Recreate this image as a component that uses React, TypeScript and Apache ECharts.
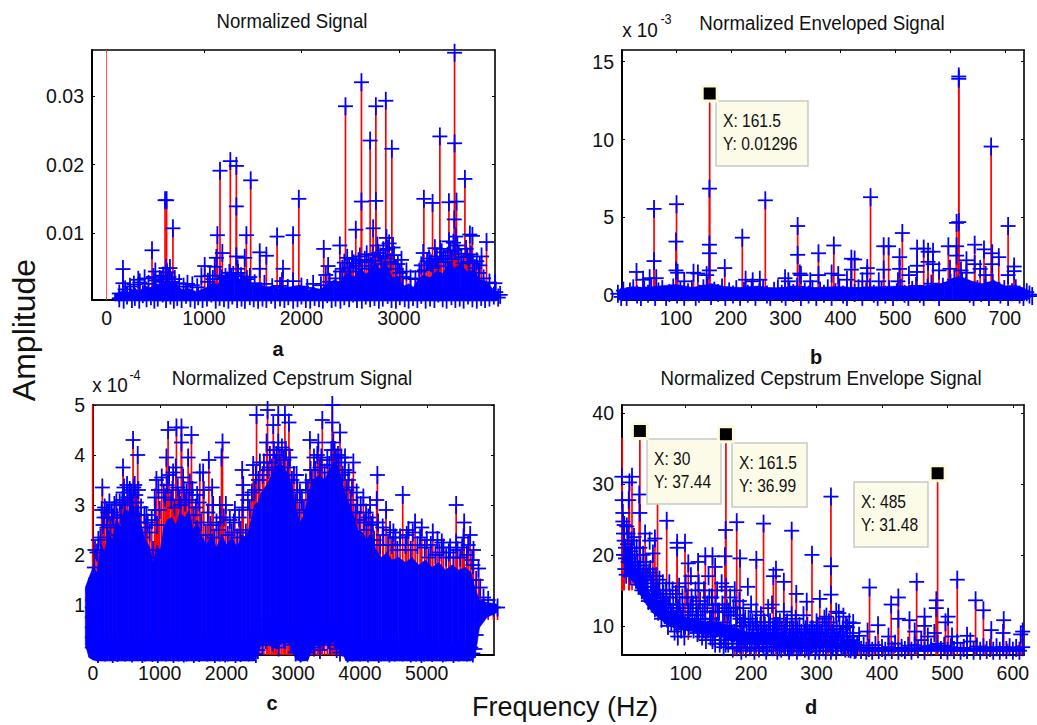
import React, { useEffect, useRef } from "react";
import * as echarts from "echarts";

type P = number[];
const titles = ["Normalized Signal", "Normalized Enveloped Signal", "Normalized Cepstrum Signal", "Normalized Cepstrum Envelope Signal"];
const xTicksA = [0, 1000, 2000, 3000];
const yTicksA = [0.01, 0.02, 0.03];
const xTicksB = [100, 200, 300, 400, 500, 600, 700];
const yTicksB = [0, 5, 10, 15];
const xTicksC = [0, 1000, 2000, 3000, 4000, 5000];
const yTicksC = [1, 2, 3, 4, 5];
const xTicksD = [100, 200, 300, 400, 500, 600];
const yTicksD = [10, 20, 30, 40];

const aLone: P[] = [[0, 0.0367]];
const aPeaks: P[] = [[168,.00476],[168,.0027],[466,.0075],[616,.0148],[600,.0148],[681,.0107],[610,.0049],[650,.0049],[1164,.0191],[1137,.0097],[1270,.0205],[1332,.0198],[1332,.0139],[1479,.0177],[1435,.0097],[1750,.0095],[1811,.0048],[1914,.0097],[1973,.015],[2229,.0077],[2274,.0052],[2250,.0039],[2394,.0082],[2452,.0285],[2558,.0105],[2616,.032],[2616,.0146],[2705,.0235],[2764,.0285],[2764,.0147],[2736,.0107],[2866,.0293],[2928,.0223],[2873,.0093],[3027,.0061],[3078,.0044],[3257,.015],[3346,.0144],[3421,.0241],[3370,.0078],[3514,.0145],[3572,.0363],[3572,.0231],[3592,.0146],[3569,.012],[3678,.0179],[3729,.0098],[3755,.0096],[3849,.0066],[3900,.0087],[3986,.0027],[3250,.0071],[973,.0037],[1007,.0052],[1110,.0051],[1127,.0064],[1188,.0071],[1332,.0066],[1418,.0064],[1572,.0072],[1640,.0067],[1572,.0048],[1345,.0048],[390,.0034],[325,.0032],[500,.0044],[830,.0026],[2120,.0026],[1914,.003],[1800,.003],[1060,.0038]];
const aMid: P[] = [[130,.0012],[190,.0018],[240,.0022],[280,.0025],[340,.0028],[430,.0026],[480,.0036],[545,.0033],[580,.0038],[640,.0036],[700,.0033],[745,.0027],[790,.0022],[880,.0024],[930,.0021],[1040,.0029],[1090,.0033],[1160,.0038],[1220,.0036],[1260,.0042],[1300,.0039],[1380,.0037],[1470,.0036],[1520,.0027],[1620,.0026],[1700,.0021],[1780,.0023],[1860,.002],[2000,.0022],[2060,.002],[2200,.0024],[2290,.0029],[2350,.0034],[2400,.0044],[2440,.0057],[2490,.005],[2520,.0062],[2560,.0052],[2600,.0066],[2650,.0061],[2690,.0058],[2730,.0068],[2780,.0082],[2810,.0066],[2840,.0075],[2900,.0085],[2950,.0068],[2990,.0055],[3040,.0036],[3120,.0034],[3170,.0033],[3210,.0044],[3230,.0053],[3290,.0059],[3330,.0056],[3390,.0066],[3440,.0072],[3480,.0058],[3530,.0074],[3560,.0086],[3600,.0082],[3640,.0065],[3690,.0077],[3720,.0058],[3780,.0049],[3820,.0042],[3870,.0034],[3930,.0028]];
const aMid2: P[] = [[2420,.0048],[2470,.0064],[2505,.0044],[2535,.0056],[2585,.0059],[2625,.0048],[2670,.0069],[2715,.0052],[2755,.006],[2790,.0071],[2825,.0055],[2860,.0063],[2885,.0077],[2915,.0058],[2940,.0079],[2970,.0048],[3010,.0042],[3265,.0046],[3310,.0063],[3350,.0049],[3375,.0061],[3405,.0052],[3425,.0077],[3460,.0063],[3500,.0067],[3515,.0088],[3545,.0062],[3575,.0075],[3585,.0095],[3615,.007],[3660,.0056],[3705,.0066],[3740,.0069],[3760,.0056],[3800,.0059],[3830,.0053],[500,.0031],[560,.0029],[620,.0043],[670,.0029],[1180,.0034],[1240,.0031],[1280,.0035],[1350,.0042],[1400,.003],[1440,.0033]];
const aLow: P[] = [[130,.0005],[175,.0003],[210,.0009],[260,.0004],[290,.0007],[335,.0003],[372,.0011],[410,.0005],[455,.0008],[490,.0003],[525,.0006],[575,.0012],[610,.0004],[655,.0009],[690,.0003],[725,.0007],[770,.0004],[815,.001],[860,.0005],[905,.0003],[940,.0008],[985,.0004],[1030,.0006],[1075,.0012],[1120,.0003],[1160,.0007],[1205,.0005],[1250,.0003],[1290,.0009],[1340,.0004],[1385,.0006],[1420,.0003],[1470,.0008],[1510,.0005],[1555,.0003],[1600,.0006],[1640,.0004],[1690,.001],[1730,.0003],[1780,.0006],[1825,.0004],[1865,.0008],[1915,.0003],[1960,.0005],[2000,.0009],[2045,.0004],[2090,.0003],[2135,.0007],[2180,.0005],[2220,.0003],[2265,.0011],[2310,.0004],[2350,.0006],[2400,.0003],[2440,.0008],[2490,.0005],[2530,.0012],[2570,.0004],[2620,.0003],[2660,.0009],[2705,.0005],[2750,.0007],[2795,.0003],[2835,.0006],[2885,.001],[2925,.0004],[2970,.0003],[3010,.0008],[3060,.0005],[3100,.0003],[3145,.0007],[3190,.0004],[3230,.001],[3275,.0003],[3320,.0006],[3365,.0004],[3405,.0012],[3450,.0005],[3490,.0003],[3540,.0008],[3580,.0004],[3625,.0006],[3665,.0003],[3710,.0009],[3755,.0005],[3800,.0003],[3845,.0007],[3885,.0004],[3930,.0006],[3975,.0009],[4020,.0006],[4040,.001],[3995,.0014]];
const aBand: P[] = [[80,.0011,.0001],[130,.0013,.0001],[170,.0017,.0001],[230,.0014,.0001],[290,.0019,.0001],[340,.0016,.0001],[400,.0023,.0001],[450,.002,.0001],[500,.0027,.0001],[560,.0024,.0001],[610,.0032,.0001],[660,.0028,.0001],[710,.0029,.0001],[750,.002,.0001],[790,.0017,.0001],[850,.0019,.0001],[920,.0014,.0001],[980,.0018,.0001],[1040,.0022,.0001],[1090,.0028,.0001],[1140,.0025,.0001],[1190,.0034,.0001],[1250,.0029,.0001],[1310,.0036,.0001],[1370,.0032,.0001],[1440,.0034,.0001],[1500,.0025,.0001],[1570,.0027,.0001],[1640,.002,.0001],[1710,.0023,.0001],[1780,.0018,.0001],[1860,.0021,.0001],[1990,.0024,.0001],[2060,.0017,.0001],[2130,.002,.0001],[2200,.0018,.0001],[2260,.0026,.0001],[2330,.0031,.0001],[2400,.0029,.0001],[2460,.0042,.0001],[2540,.0036,.0001],[2600,.0048,.0001],[2670,.004,.0001],[2740,.0055,.0001],[2810,.0048,.0001],[2870,.0056,.0001],[2930,.0036,.0001],[2990,.0035,.0001],[3050,.0023,.0001],[3100,.0026,.0001],[3150,.0021,.0001],[3200,.0033,.0001],[3250,.0039,.0001],[3320,.0035,.0001],[3390,.0045,.0001],[3450,.0041,.0001],[3520,.0058,.0001],[3570,.0049,.0001],[3630,.0055,.0001],[3700,.0044,.0001],[3770,.0046,.0001],[3830,.0032,.0001],[3900,.003,.0001],[3960,.0019,.0001],[4020,.0012,.0002]];

const bPeaks: P[] = [[60,5.55],[60,2.2],[101,5.85],[100,3.45],[100,1.6],[103,1.45],[28,1.5],[52,1.1],[64,1.1],[132,1.45],[140,1.4],[161,6.85],[161,3.25],[161,2.7],[161,1.6],[156,1.3],[189,1.75],[221,3.7],[227,1],[253,1],[263,6.1],[299,1.1],[322,4.45],[322,2.6],[326,1.4],[328,1.3],[360,2.7],[360,1.3],[388,3.2],[384,1.4],[396,1.3],[420,2.35],[426,2.3],[420,1.65],[449,1.75],[455,6.3],[449,1.4],[479,3.15],[488,3.15],[479,1.65],[508,2.45],[513,4],[508,1.7],[540,3],[552,3],[540,1.9],[540,1.5],[560,2.8],[569,2.8],[560,2.15],[569,2],[597,3.15],[612,3.15],[616,14.05],[616,13.9],[616,4.7],[612,4.65],[612,2.55],[630,2.25],[645,3.25],[662,2.95],[645,2],[675,9.55],[677,2.7],[677,2],[689,2.45],[706,4.45],[717,1.85],[717,1.55],[706,1.3],[655,1.7],[600,1.7],[580,1.6],[620,1.6],[630,1.45],[665,1.3],[525,1.3],[505,.9],[470,.9],[40,1],[115,.9],[240,.9],[305,.9],[345,.9],[412,1],[440,.9]];
const bStar: P[] = [[161.5,12.96]];
const bLow: P[] = [[-6,.1],[0,-.1],[4,.3],[10,-.1],[16,.25],[22,.45],[29,.05],[36,-.1],[42,.35],[49,.1],[55,.5],[62,-.1],[68,.25],[75,.4],[82,-.1],[88,.15],[95,.5],[102,.05],[108,.3],[115,-.1],[122,.2],[129,.4],[136,-.1],[142,.1],[150,.45],[157,.6],[164,-.05],[170,.3],[177,.15],[184,.5],[190,-.1],[197,.25],[204,.05],[210,.4],[217,-.1],[224,.3],[231,.1],[238,.5],[245,-.1],[252,.2],[259,.4],[266,.05],[272,-.1],[279,.3],[286,.45],[293,.1],[300,-.1],[307,.35],[314,.15],[321,.55],[328,-.1],[335,.25],[342,.05],[349,.4],[356,-.1],[363,.3],[370,.1],[377,.45],[384,-.1],[391,.2],[398,.5],[405,.05],[412,-.1],[419,.35],[426,.15],[433,.45],[440,-.1],[447,.25],[454,.5],[461,.1],[468,-.1],[475,.3],[482,.05],[489,.4],[496,-.1],[503,.2],[510,.5],[517,.1],[524,-.1],[531,.35],[538,.6],[545,.1],[552,-.1],[559,.5],[566,.75],[573,.2],[580,-.1],[587,.55],[594,.3],[601,.8],[608,1],[615,.7],[622,.9],[629,.6],[636,.1],[643,-.1],[650,.4],[657,.15],[664,.5],[671,-.1],[678,.8],[685,.25],[692,.05],[699,.4],[706,-.1],[713,.2],[720,.45],[727,.05],[734,-.1],[740,.2],[745,.05],[750,-.05]];
const bBand: P[] = [[-6,.35,-.3],[20,.55,-.3],[50,.5,-.3],[70,.6,-.3],[100,.7,-.3],[130,.5,-.3],[150,.65,-.3],[165,.75,-.3],[190,.55,-.3],[220,.5,-.3],[250,.6,-.3],[280,.45,-.3],[320,.6,-.3],[350,.5,-.3],[390,.55,-.3],[430,.5,-.3],[470,.55,-.3],[510,.6,-.3],[540,.55,-.3],[570,.7,-.3],[590,.8,-.3],[605,1.1,-.3],[620,1.2,-.3],[640,.9,-.3],[660,.75,-.3],[680,.95,-.3],[700,.6,-.3],[720,.65,-.3],[745,.3,-.25]];

const cLone: P[] = [[-5, 5]];
const cPeaks: P[] = [[140,3.35],[175,2.95],[225,2.85],[450,3.75],[600,4.3],[670,4],[510,3.4],[625,3.4],[350,3.05],[450,3.25],[800,2.8],[950,3.5],[925,3.15],[1125,4.5],[1100,3.95],[1250,4.55],[1325,4.55],[1325,4.25],[1200,3.65],[1475,4.4],[1425,3.95],[1350,3.55],[1600,3.65],[1650,3.65],[1735,3.9],[1785,3.35],[1940,4.25],[1925,3.95],[1900,3],[2235,3.7],[2250,3.4],[2250,3.2],[2125,2.9],[2400,3.8],[2450,4.8],[2615,4.9],[2600,4.25],[2700,4.6],[2775,4.8],[2875,4.8],[2935,4.65],[2775,4.25],[3050,3.6],[3100,3.25],[3250,4.3],[3375,4.25],[3435,4.7],[3585,5],[3585,4.65],[3700,4.45],[3600,4.25],[3775,3.95],[3900,3.85],[3825,3.5],[4050,3.15],[3960,3],[4260,3.6],[4250,3.1],[4390,2.9],[4125,2.75],[4640,3.2],[4825,2.65],[4925,2.55],[5090,2.45],[4725,2.5],[5440,3],[5560,2.65],[5650,2.4],[5440,2.25],[5225,2.25],[5350,2.15],[5775,1.73],[5550,2.35],[5700,2.1],[4500,2.45],[4350,2.4]];
const cMid: P[] = [[20,1.75],[60,2.05],[110,2.35],[150,2.6],[210,2.55],[260,2.6],[300,2.75],[380,2.4],[420,2.8],[480,3],[550,3.3],[590,3.05],[650,3.05],[700,2.65],[740,2.35],[790,2.55],[850,2.45],[900,2.1],[960,2.6],[1000,2.9],[1060,3.25],[1110,3.4],[1170,3.1],[1220,2.95],[1270,3.35],[1310,3],[1380,3.05],[1440,3.1],[1510,2.8],[1560,3.2],[1620,2.65],[1690,2.4],[1760,2.6],[1820,2.35],[1880,2.5],[1960,2.75],[2020,2.4],[2080,2.45],[2160,2.35],[2210,2.5],[2290,2.45],[2350,2.9],[2420,3.3],[2480,3.5],[2540,3.6],[2620,3.7],[2680,3.75],[2730,3.85],[2800,3.95],[2860,3.9],[2920,3.75],[2980,3.5],[3030,3.05],[3090,2.85],[3160,2.9],[3220,3.3],[3280,3.5],[3330,3.7],[3400,3.75],[3470,3.65],[3540,3.8],[3640,3.95],[3680,3.85],[3740,3.6],[3800,3.3],[3860,3.1],[3930,2.85],[3990,2.7],[4060,2.65],[4100,2.5],[4170,2.6],[4210,2.3],[4300,2.2],[4420,2.2],[4480,2.2],[4560,2.1],[4680,2.2],[4760,2.1],[4860,2.2],[4970,2.15],[5030,1.95],[5130,2],[5190,2.05],[5290,1.95],[5400,1.95],[5500,1.95],[5600,2],[5680,1.9],[5740,1.5],[5800,1.35],[5850,1.15],[5920,1.1],[6000,.95],[6060,.95]];
const cMid2: P[] = [[30,2.1],[80,2.3],[130,2.9],[165,2.75],[200,2.9],[245,3.05],[280,2.85],[320,3],[365,2.75],[400,3.05],[440,3.1],[465,3.35],[520,3.15],[570,3.25],[610,3.35],[640,3.2],[680,3.3],[720,2.95],[770,2.8],[820,2.65],[880,2.7],[930,2.9],[980,3.3],[1030,3.55],[1080,3.15],[1140,3.6],[1190,3.3],[1240,3.75],[1290,3.1],[1360,3.3],[1400,3.25],[1450,3.45],[1490,3.3],[1540,2.95],[1590,3.05],[1660,3.3],[1720,2.85],[1800,3],[1850,2.65],[1910,2.75],[1990,3],[2050,2.7],[2110,2.65],[2190,2.75],[2240,2.95],[2320,3.1],[2380,3.25],[2440,3.6],[2500,3.85],[2560,3.85],[2650,4],[2710,4.1],[2750,4],[2830,4.15],[2890,4.1],[2950,3.95],[3010,3.6],[3060,3.3],[3130,3.1],[3190,3.45],[3260,3.7],[3310,3.95],[3360,4],[3420,3.95],[3510,3.9],[3570,4.1],[3620,4.1],[3670,4],[3720,3.95],[3770,3.7],[3830,3.65],[3880,3.35],[3950,3.25],[4010,3],[4090,2.85],[4150,3],[4190,2.65],[4270,2.65],[4340,2.55],[4450,2.5],[4530,2.35],[4600,2.35],[4700,2.4],[4790,2.45],[4900,2.35],[5000,2.3],[5060,2.2],[5160,2.3],[5250,2.15],[5330,2.05],[5460,2.1],[5530,2.15],[5620,2.2],[5690,1.8]];
const cLow: P[] = [[-10,.15],[-10,.35],[-10,.55],[-10,.75],[-10,.95],[-5,1.1],[-5,1.3],[40,.1],[75,.02],[110,.25],[145,.06],[180,.05],[220,.15],[260,.3],[295,.02],[330,.1],[365,.04],[400,.2],[440,.1],[480,.05],[515,.18],[550,.3],[585,.03],[620,.12],[660,.06],[700,.2],[740,.02],[780,.05],[815,.16],[850,.28],[890,.04],[930,.1],[970,.02],[1010,.2],[1050,.08],[1090,.05],[1130,.18],[1170,.3],[1205,.02],[1240,.12],[1280,.05],[1320,.22],[1360,.03],[1400,.05],[1435,.15],[1470,.25],[1510,.02],[1550,.08],[1590,.04],[1630,.2],[1670,.07],[1710,.05],[1750,.18],[1790,.3],[1825,.02],[1860,.12],[1900,.05],[1940,.2],[1980,.03],[2020,.05],[2060,.14],[2100,.25],[2135,.02],[2170,.1],[2210,.04],[2250,.2],[2290,.08],[2330,.05],[2370,.15],[2410,.2],[2440,.02],[2470,.1],[2510,.4],[2535,.2],[2560,.7],[2590,.3],[2615,.5],[2640,.55],[2665,.35],[2690,.25],[2730,.5],[2755,.3],[2780,.15],[2805,.4],[2830,.6],[2855,.35],[2880,.3],[2905,.5],[2930,.45],[2965,.25],[3000,.2],[3035,.05],[3070,.1],[3110,.03],[3150,.25],[3180,.06],[3210,.05],[3240,.2],[3270,.35],[3310,.15],[3335,.45],[3360,.4],[3400,.1],[3425,.5],[3450,.3],[3475,.4],[3500,.55],[3525,.3],[3550,.2],[3575,.5],[3600,.45],[3625,.3],[3650,.12],[3675,.35],[3700,.05],[3740,.15],[3780,.2],[3815,.03],[3850,.1],[3885,.05],[3920,.25],[3960,.08],[4000,.05],[4040,.15],[4080,.2],[4120,.03],[4160,.1],[4200,.06],[4240,.25],[4280,.02],[4320,.05],[4360,.13],[4400,.18],[4440,.03],[4480,.1],[4520,.05],[4560,.25],[4600,.08],[4640,.05],[4680,.15],[4720,.2],[4760,.03],[4800,.1],[4840,.05],[4880,.25],[4920,.02],[4960,.05],[5000,.12],[5040,.2],[5080,.04],[5120,.1],[5160,.06],[5200,.25],[5240,.03],[5280,.05],[5320,.14],[5360,.18],[5400,.02],[5440,.1],[5480,.05],[5520,.25],[5560,.08],[5600,.05],[5630,.12],[5660,.15],[5690,.03],[5720,.12],[5740,.4],[5750,.7],[5780,.9],[5840,.85]];
const cBand: P[] = [[-115,1.35,.2],[-60,1.55,-.05],[0,1.75,-.1],[60,1.65,-.12],[120,2.25,-.12],[170,2.05,-.12],[230,2.5,-.12],[290,2.3,-.12],[350,2.75,-.12],[410,2.55,-.12],[470,2.95,-.12],[530,2.85,-.12],[570,3.15,-.12],[620,2.9,-.12],[680,3,-.12],[730,2.5,-.12],[790,2.3,-.12],[850,2.15,-.12],[900,1.85,-.12],[960,2.2,-.12],[1000,2.05,-.12],[1060,2.55,-.12],[1110,2.7,-.12],[1180,2.75,-.12],[1240,2.6,-.12],[1300,2.85,-.12],[1380,2.75,-.12],[1440,2.9,-.12],[1500,2.5,-.12],[1560,2.7,-.12],[1620,2.4,-.12],[1700,2.2,-.12],[1770,2.4,-.12],[1850,2.15,-.12],[1930,2.4,-.12],[2000,2.2,-.12],[2080,2.35,-.12],[2160,2.15,-.12],[2230,2.4,-.12],[2300,2.35,-.12],[2360,2.65,-.12],[2420,3,-.12],[2470,3.05,.05],[2520,3.25,.2],[2600,3.4,.25],[2660,3.55,.2],[2730,3.75,.15],[2800,3.85,.2],[2860,3.75,.25],[2930,3.6,.25],[2990,3.3,.1],[3040,2.9,-.1],[3100,2.65,-.12],[3160,2.8,-.12],[3220,3.15,-.1],[3280,3.45,.1],[3340,3.55,.2],[3400,3.6,.15],[3470,3.5,.25],[3540,3.7,.2],[3600,3.85,.25],[3660,3.8,.15],[3730,3.5,.05],[3790,3.15,-.12],[3850,3,-.12],[3910,2.75,-.12],[3970,2.5,-.12],[4040,2.45,-.12],[4100,2.3,-.12],[4170,2.45,-.12],[4240,2.1,-.12],[4320,1.95,-.12],[4400,2.05,-.12],[4480,1.9,-.12],[4580,1.95,-.12],[4680,1.85,-.12],[4780,1.95,-.12],[4880,1.8,-.12],[4980,1.9,-.12],[5080,1.75,-.12],[5180,1.85,-.12],[5280,1.7,-.12],[5380,1.8,-.12],[5480,1.7,-.12],[5580,1.75,-.12],[5660,1.65,-.12],[5720,1.35,-.05],[5790,1.1,.55],[5900,1.05,.75],[6050,1.02,.85]];
const cFloor: P[] = [[-100,0],[5730,.7]];

const dLone: P[] = [[3, 36.5]];
const dPeaks: P[] = [[2.5,31],[3,27.7],[4,25.9],[4,24.7],[6,24.2],[18,31],[13,27.7],[14,30.2],[29,28.5],[30,25.9],[57,29],[71,24.8],[53,22.3],[38,23],[50,20.2],[87,21.7],[99,21.7],[87,21],[104,18.8],[119,19],[130,19.8],[141,19.8],[145,18.3],[161,23.5],[160,19.8],[178,24.6],[183,19.5],[208,19.3],[219,24.4],[238,17.9],[234,17],[250,16.2],[262,23.4],[269,14.5],[293,20],[285,13.4],[305,13.8],[322,28.2],[322,18.4],[322,14.4],[341,11.3],[356,10.4],[381,15.4],[378,9.2],[394,10.1],[414,13],[425,14],[425,11],[410,8.5],[442,10.8],[453,16.2],[465,11.3],[465,10],[450,9.2],[483,13.6],[483,12.5],[501,11.3],[497,10.5],[515,16.5],[507,8.5],[530,8.6],[543,13.6],[555,12.2],[567,9.4],[586,10.8],[585,9],[615,9.2],[612,8.8],[365,8.6],[347,9.8],[330,12],[315,11.3],[300,10.5]];
const dStars: P[] = [[30,37.44],[161.5,36.99],[485,31.48]];
const dMass: P[] = [[5,23],[6,22],[8,21],[5,20],[8,19.5],[7,18],[9,17.2],[10,24],[12,23],[11,21.5],[13,20],[12,19],[14,18],[15,17],[17,22],[16,20.5],[18,21],[19,19],[20,17.5],[22,20],[23,18.5],[24,16.5],[26,19],[27,17.5],[28,15.8],[30,21],[31,18.5],[32,16.5],[33,15],[35,20],[36,17.5],[37,15.5],[38,14.5],[40,19],[41,17],[42,15],[43,13.5],[45,22],[46,18],[47,16],[48,14],[50,17],[51,15],[52,13.5],[53,12.5],[55,17],[56,15],[57,13],[58,12],[60,16.5],[61,14],[62,12.5],[63,11],[65,16],[66,14.5],[67,13],[68,11.5],[70,15],[71,13],[72,11],[73,10],[75,16],[76,14],[77,12],[78,10.5],[80,15],[81,13],[82,11],[83,9.2],[85,14.5],[86,12.5],[87,10.5],[88,8.5],[90,15.5],[91,13],[92,11.5],[93,9.5],[95,14],[96,12],[97,10],[98,8.5],[100,16],[102,14],[104,12],[105,10],[108,17],[109,14],[110,11.5],[112,9.5],[115,15],[116,13],[117,11],[118,9],[120,16],[122,13.5],[123,11],[125,8.5],[128,15],[129,12.5],[130,10.5],[131,8],[135,17],[136,14],[137,11],[138,8.5],[140,14],[142,12],[143,9.5],[145,7.5],[148,15],[149,12],[150,10],[152,7.5],[155,16],[156,13],[157,10.5],[158,7],[162,15.5],[163,12.5],[164,10],[165,7.5],[168,14],[169,11.5],[170,9],[172,6.8],[175,15],[176,12.5],[177,10],[178,7],[182,13.5],[183,11],[184,8.5],[185,6.5],[188,12.5],[189,10.5],[190,8],[192,6.8],[195,15.5],[196,11],[197,9],[198,7],[200,13],[202,10.5],[203,8.5],[205,6.5],[208,12],[209,10],[210,8],[212,6.8],[215,11.5],[216,9],[217,7.5],[220,10.5],[222,8.5],[223,6.5],[226,12.5],[227,10],[228,7.5],[232,13],[233,9.5],[234,7],[238,11],[239,8.5],[240,6.5],[244,10.5],[245,8],[246,6.8],[250,12],[251,9],[252,7],[255,10.5],[257,8],[258,6.5],[262,11.5],[263,9],[264,7],[268,11],[269,8.5],[270,6.5],[274,10],[275,8],[276,7],[280,11.5],[281,9],[282,6.8],[286,10],[287,8],[288,6.5],[292,9.5],[293,7.5],[296,8],[298,6.5],[302,10],[303,8],[304,6.5],[308,9],[310,7],[312,11],[313,8.5],[314,6.5],[318,9.5],[320,7.5],[322,6.5],[326,10],[328,8],[330,6.5],[334,11.8],[336,8.5],[338,7],[340,9.5],[343,7],[346,8.5],[350,10.5],[352,6.7],[355,8],[358,6.6],[362,7.3],[368,6.6],[372,7.2],[376,6.5],[380,6.9],[385,6.5],[390,7.3],[395,6.6],[400,6.9],[405,6.5],[410,7],[415,6.6],[420,7.5],[425,6.5],[430,6.9],[435,6.6],[440,7.2],[445,6.5],[450,7.3],[455,6.7],[460,8],[465,6.5],[470,8.5],[475,7],[480,9],[485,7.5],[490,6.6],[495,7.2],[500,6.5],[505,7],[510,6.6],[515,7.6],[520,6.5],[525,6.9],[530,6.6],[535,7.8],[540,6.5],[545,7.1],[550,6.5],[555,7],[560,6.6],[565,6.9],[570,6.5],[575,7],[580,6.5],[585,7],[590,6.6],[595,7],[600,6.5],[605,6.9],[610,6.5],[615,7]];
const dMass2: P[] = [[9,20],[15,19.5],[21,22.5],[25,21],[29,18],[34,17],[39,16.5],[44,17.5],[49,15.5],[54,14.5],[59,15],[64,13.5],[69,12.5],[74,13],[79,11.5],[84,11],[89,12.5],[94,11],[99,10],[103,11],[107,12.5],[111,13],[114,10.5],[119,11.5],[121,9.5],[126,12],[127,9.5],[133,13],[134,9.5],[139,11],[141,8],[146,13],[147,10],[151,12],[153,9],[154,8],[159,12],[160,9],[161,7.5],[166,12],[167,9.5],[171,8],[173,12.5],[174,9],[179,11.5],[180,8.5],[181,7.5],[186,10],[187,8.5],[191,11],[193,9],[194,7.5],[199,10.5],[201,8],[204,9.5],[206,7.5],[207,10.5],[211,9],[213,7.5],[214,10],[218,8.5],[219,7],[221,10],[224,9],[225,7],[229,10.5],[230,8.5],[231,7],[235,10],[236,8],[237,9],[241,10],[242,8],[243,7],[247,9.5],[248,7.5],[249,8],[253,10],[254,8],[256,7],[259,9.5],[260,8],[261,7],[265,9.5],[266,7.5],[267,8],[271,9.5],[272,8],[273,7],[277,9],[278,7.5],[279,8],[283,9.5],[284,8],[285,7],[289,9],[290,8],[291,7],[294,9.5],[295,7.5],[297,9],[299,8],[300,7],[301,8.5],[305,9],[306,7.5],[307,8],[309,10],[311,8],[315,9.5],[316,7.5],[317,8],[319,10.5],[321,8.5],[323,7.5],[324,9],[325,7],[327,8.5],[329,7.5],[331,9.5],[332,7.2],[333,8],[335,10],[337,7.5],[339,8.5],[341,7.2],[342,8],[344,6.8],[345,10],[348,7.4],[349,6.8],[351,8.5],[354,7],[356,9],[357,7.3],[360,6.7]];
const dRedFoot: P[] = [[175,7.2],[188,7.5],[200,6.9],[212,7.4],[225,7.1],[238,7.6],[250,7],[265,7.3],[278,7.6],[290,7],[305,7.4],[318,7.1],[332,7.6],[345,7.2],[358,7.7],[372,7.1],[388,7.5],[402,7.2],[418,7.7],[436,7.3],[452,7.6],[470,7.2],[490,7.5],[506,7.3],[524,7.6],[542,7.2],[558,7.4],[576,7.2],[592,7.5],[608,7.3]];
const dBand: P[] = [[8,21,17.5],[14,20,17],[22,18.5,15.8],[30,17,14.5],[40,15.5,13],[50,14,11.8],[60,13.5,11],[75,12,10],[90,11.5,9.5],[110,11,9.2],[130,10.5,8.8],[150,10.5,8.5],[170,9.8,8],[190,9.2,7.6],[215,9,7.5],[240,8.8,7.3],[270,8.6,7.3],[300,8.2,7.2],[325,7.8,7.2],[350,7,6.4],[400,6.9,6.4],[450,7,6.4],[480,7.5,6.4],[510,6.9,6.4],[560,6.9,6.4],[618,6.8,6.4]];
const dFloor: P[] = [[0,15],[20,15],[40,12.5],[60,10],[80,8.8],[100,8],[140,7],[170,5.9]];

const grids = [
  { left: 92, top: 50, width: 403, height: 250, xr: [-150, 3987], yr: [0.00025, 0.0367] },
  { left: 622, top: 50, width: 402, height: 250, xr: [1.5, 735], yr: [-0.3, 15.75] },
  { left: 93, top: 405, width: 401, height: 250, xr: [0, 6007], yr: [0, 5] },
  { left: 622, top: 405, width: 402, height: 250, xr: [2.7, 617], yr: [5.9, 41.1] },
];

const xTicks = [xTicksA, xTicksB, xTicksC, xTicksD];
const yTicks = [yTicksA, yTicksB, yTicksC, yTicksD];
const FONT = '"Liberation Sans", Arial, sans-serif';
const BLUE = "#0000ff";
const RED = "#ff0000";

function axisPair(i: number, pos: string[], range: number[], ticks: number[], fmt: (v: number) => string) {
  const base = (position: string, labels: boolean) => ({
    type: "value",
    gridIndex: i,
    position,
    min: range[0],
    max: range[1],
    scale: true,
    splitLine: { show: false },
    axisLine: { show: true, onZero: false, lineStyle: { color: "#000", width: labels ? 2 : 1.6 } },
    axisTick: { show: true, inside: true, length: 3, customValues: ticks, lineStyle: { color: "#000", width: 1 } },
    axisLabel: { show: labels, customValues: ticks, formatter: fmt, color: "#111", fontFamily: FONT, fontSize: 19.5, margin: 8 },
  });
  return [base(pos[0], true), base(pos[1], false)];
}

function floorAt(x: number, y: number, base: number | P[]) {
  if (typeof base === "number") return base;
  let f = base[0][1];
  for (const r of base) if (r[0] <= x) f = r[1];
  return Math.min(f, y);
}
function stems(i: number, data: P[], base: number | P[], width = 1.7, color = RED) {
  return {
    type: "custom", xAxisIndex: i * 2, yAxisIndex: i * 2, z: 3, clip: false, silent: true, data,
    encode: { x: 0, y: 1 },
    renderItem: (_: any, api: any) => {
      const x = api.value(0), y = api.value(1);
      const a = api.coord([x, floorAt(x, y, base)]);
      const b = api.coord([x, y]);
      return { type: "line", shape: { x1: a[0], y1: a[1], x2: b[0], y2: b[1] }, style: { stroke: color, lineWidth: width } };
    },
  };
}
function pluses(i: number, data: P[]) {
  return {
    type: "custom", xAxisIndex: i * 2, yAxisIndex: i * 2, z: 5, clip: false, silent: true, data,
    encode: { x: 0, y: 1 },
    renderItem: (_: any, api: any) => {
      const c = api.coord([api.value(0), api.value(1)]);
      const st = { stroke: BLUE, lineWidth: 1.8 };
      return {
        type: "group",
        children: [
          { type: "line", shape: { x1: c[0] - 7.5, y1: c[1], x2: c[0] + 7.5, y2: c[1] }, style: st },
          { type: "line", shape: { x1: c[0], y1: c[1] - 9, x2: c[0], y2: c[1] + 9 }, style: st },
        ],
      };
    },
  };
}
function band(i: number, rows: P[]) {
  return {
    type: "custom", xAxisIndex: i * 2, yAxisIndex: i * 2, z: 4, clip: false, silent: true, data: rows,
    encode: { x: 0, y: [1, 2] },
    renderItem: (p: any, api: any) => {
      const n = rows[p.dataIndex + 1];
      if (!n) return null;
      const r = rows[p.dataIndex];
      const pts = [api.coord([r[0], r[1]]), api.coord([n[0], n[1]]), api.coord([n[0], n[2]]), api.coord([r[0], r[2]])];
      return { type: "polygon", shape: { points: pts }, style: { fill: BLUE, stroke: BLUE, lineWidth: 0.6 } };
    },
  };
}
function stars(i: number, data: P[]) {
  return {
    type: "scatter", xAxisIndex: i * 2, yAxisIndex: i * 2, z: 60, clip: false, silent: true, data,
    symbol: "rect", symbolSize: 15,
    itemStyle: { color: "#000", borderColor: "#fdfbdc", borderWidth: 3, opacity: 1 },
  };
}

const txt = (text: string, x: number, y: number, size: number, sx = 1, extra: any = {}) => ({
  type: "text", z: 70, x, y, scaleX: sx, silent: true,
  style: { text, x: 0, y: 0, fill: "#111", font: `${size}px ${FONT}`, textAlign: "center", textVerticalAlign: "middle", ...extra },
});
const tip = (l: number, t: number, r: number, b: number, a: string, c: string) => [
  { type: "rect", z: 50, silent: true, shape: { x: l, y: t, width: r - l, height: b - t }, style: { fill: "#fbfbe8", stroke: "#c9c9c4", lineWidth: 1.5 } },
  txt(a, l + 7, t + 20, 17.5, 0.89, { textAlign: "left" }),
  txt(c, l + 7, t + 43, 17.5, 0.89, { textAlign: "left" }),
];
const bold = { font: `bold 20px ${FONT}` };

export default function App() {
  const ref = useRef<HTMLDivElement>(null);
  useEffect(() => {
    document.body.style.margin = "0";
    const chart = echarts.init(ref.current!, undefined, { renderer: "svg" });
    const plain = (v: number) => String(v);
    const xAxis: any[] = [];
    const yAxis: any[] = [];
    grids.forEach((g, i) => {
      xAxis.push(...axisPair(i, ["bottom", "top"], g.xr, xTicks[i], plain));
      yAxis.push(...axisPair(i, ["left", "right"], g.yr, yTicks[i], i === 0 ? (v: number) => v.toFixed(2) : plain));
    });
    chart.setOption({
      animation: false,
      backgroundColor: "#fff",
      grid: grids.map((g) => ({ left: g.left, top: g.top, width: g.width, height: g.height, show: false })),
      xAxis,
      yAxis,
      series: [
        stems(0, [...aPeaks, ...aMid, ...aMid2], 0.00025),
        stems(0, aLone, 0.00025, 1, "#f25050"),
        band(0, aBand),
        pluses(0, [...aLow, ...aMid, ...aMid2, ...aPeaks]),
        stems(1, [...bPeaks, ...bStar], -0.3),
        band(1, bBand),
        pluses(1, [...bLow, ...bPeaks]),
        stars(1, bStar),
        stems(2, [...cPeaks, ...cMid, ...cMid2], cFloor),
        stems(2, cLone, 0),
        band(2, cBand),
        pluses(2, [...cLow, ...cMid, ...cMid2, ...cPeaks]),
        stems(3, [...dPeaks, ...dStars, ...dLone, ...dRedFoot], dFloor),
        band(3, dBand),
        pluses(3, [...dMass, ...dMass2, ...dPeaks]),
        stars(3, dStars),
      ],
      graphic: {
        elements: [
          txt(titles[0], 292, 21, 20, 0.93),
          txt(titles[1], 822, 23, 20, 0.935),
          txt(titles[2], 292, 378, 20, 0.945),
          txt(titles[3], 821, 378, 20, 0.935),
          txt("a", 278, 349, 20, 1, bold),
          txt("b", 816, 357, 20, 1, bold),
          txt("c", 272, 703, 20, 1, bold),
          txt("d", 811, 707, 20, 1, bold),
          txt("x 10", 640, 30, 21, 0.9),
          txt("-3", 666, 19, 14, 0.9),
          txt("x 10", 110, 385, 21, 0.9),
          txt("-4", 135, 375, 14, 0.9),
          txt("Frequency (Hz)", 565, 707, 27),
          { ...txt("Amplitude", 24, 330, 32), rotation: Math.PI / 2 },
          ...tip(716, 101, 808, 166, "X: 161.5", "Y: 0.01296"),
          ...tip(647, 439, 721, 504, "X: 30", "Y: 37.44"),
          ...tip(732, 443, 807, 507, "X: 161.5", "Y: 36.99"),
          ...tip(854, 482, 928, 547, "X: 485", "Y: 31.48"),
        ],
      },
    });
    return () => chart.dispose();
  }, []);
  return <div ref={ref} style={{ width: 1037, height: 725 }} />;
}
